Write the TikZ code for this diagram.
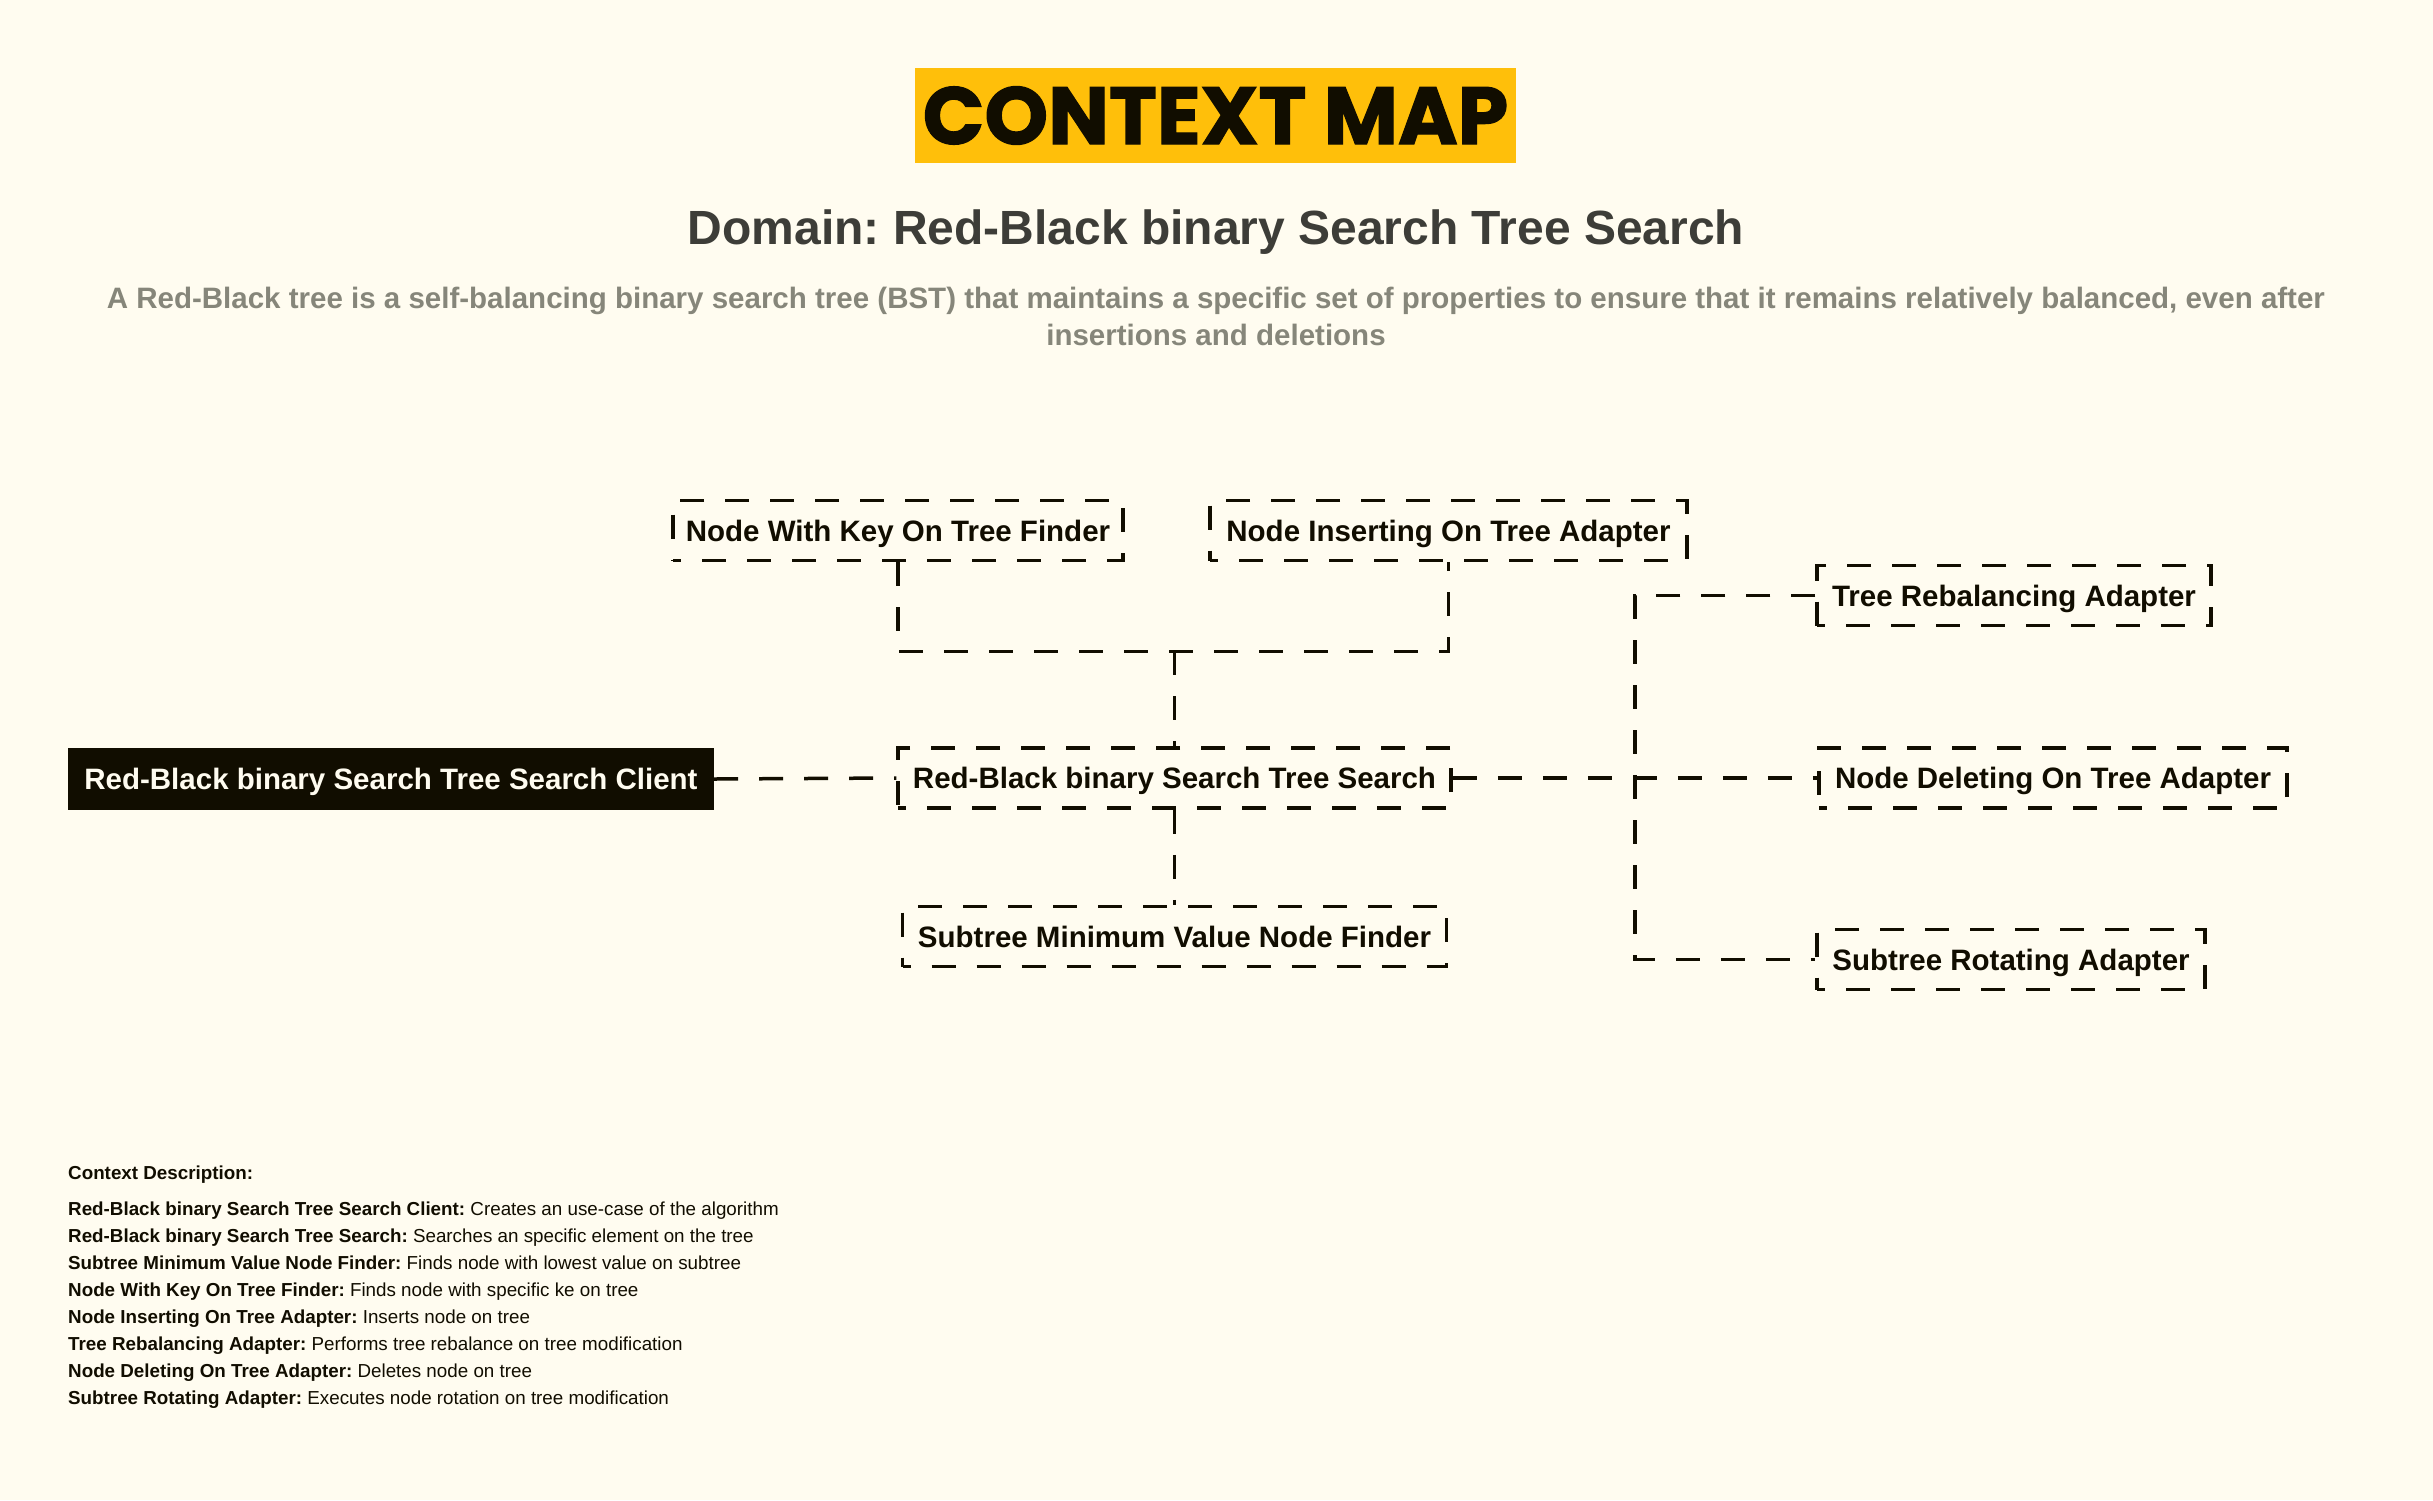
\documentclass[tikz,border=0pt]{standalone}
\usepackage{fontspec}
\setmainfont{Liberation Sans}
\newfontfamily\titlefont{Poppins}[BoldFeatures={FakeBold=1.5}]
\usepackage{tikz}
\usetikzlibrary{positioning}
\definecolor{paper}{HTML}{FFFCF0}
\definecolor{ink}{HTML}{110D00}
\definecolor{amber}{HTML}{FFBF0A}
\definecolor{slate}{HTML}{3D3D38}
\definecolor{mist}{HTML}{86867A}
\frenchspacing

\begin{document}
\begin{tikzpicture}[x=1pt, y=-1pt, node distance=95pt]

    \tikzset{
        context/.style={
            draw=ink,
            line width=3.5pt,
            dash pattern=on 24pt off 21pt,
            dash phase=16pt,
            fill=paper,
            text=ink,
            minimum height=60pt,
            inner sep=0pt,
            text height=21.5pt,
            text depth=0pt,
            font=\fontsize{29.5}{34}\selectfont\bfseries
        },
        client/.style={
            fill=ink,
            text=paper,
            minimum height=62pt,
            inner sep=0pt,
            text height=21.5pt,
            text depth=0pt,
            font=\fontsize{29.5}{34}\selectfont\bfseries
        },
        link/.style={
            draw=ink,
            line width=3.5pt,
            dash pattern=on 24pt off 21pt
        }
    }

    % canvas
    \fill[paper] (0,0) rectangle (2433,1500);
    \useasboundingbox (0,0) rectangle (2433,1500);

    % header
    \node[fill=amber, minimum width=601pt, minimum height=95pt, inner sep=0pt, text=ink,
          font=\titlefont\fontsize{81}{90}\selectfont\bfseries] (title) at (1215.5,115.5) {CONTEXT MAP};
    \node[text=slate, font=\fontsize{48}{56}\selectfont\bfseries] (domain) at (1216,232)
        {Domain: Red-Black binary Search Tree Search};
    \node[text=mist, align=center, font=\fontsize{29.5}{37}\selectfont\bfseries] (about) at (1216,316)
        {A Red-Black tree is a self-balancing binary search tree (BST) that maintains a specific set of properties to ensure that it remains relatively balanced, even after\\insertions and deletions};

    % contexts
    \node[client, minimum width=646pt] (client) at (391,779) {Red-Black binary Search Tree Search Client};
    \node[context, minimum width=553pt] (srch) at (1174.5,778) {Red-Black binary Search Tree Search};
    \node[context, minimum width=544pt, below=95pt of srch] (submin) {Subtree Minimum Value Node Finder};
    \node[context, minimum width=450pt] (finder) at (898,530.5) {Node With Key On Tree Finder};
    \node[context, minimum width=477pt] (insert) at (1448.5,530.5) {Node Inserting On Tree Adapter};
    \node[context, minimum width=394pt] (rebal) at (2014,595.5) {Tree Rebalancing Adapter};
    \node[context, minimum width=468pt] (del) at (2053,778) {Node Deleting On Tree Adapter};
    \node[context, minimum width=388pt] (rot) at (2011,959.5) {Subtree Rotating Adapter};

    % relations
    \path (srch.north) ++(0,-95) coordinate (hub);
    \coordinate (spine) at (1635,778);

    \draw[link] (client.east) -- (srch.west);
    \draw[link] (finder.south) |- (hub) -| (insert.south);
    \draw[link] (hub) -- (srch.north);
    \draw[link] (srch.south) -- (submin.north);
    \draw[link] (srch.east) -- (del.west);
    \draw[link] (rebal.west) -| (spine) |- (rot.west);

    % description
    \node[anchor=north west, align=left, text=ink, inner sep=0pt, font=\fontsize{18.8}{27}\selectfont] (legend) at (68,1166)
        {\textbf{Context Description:}\\[9pt]
         \textbf{Red-Black binary Search Tree Search Client:} Creates an use-case of the algorithm\\
         \textbf{Red-Black binary Search Tree Search:} Searches an specific element on the tree\\
         \textbf{Subtree Minimum Value Node Finder:} Finds node with lowest value on subtree\\
         \textbf{Node With Key On Tree Finder:} Finds node with specific ke on tree\\
         \textbf{Node Inserting On Tree Adapter:} Inserts node on tree\\
         \textbf{Tree Rebalancing Adapter:} Performs tree rebalance on tree modification\\
         \textbf{Node Deleting On Tree Adapter:} Deletes node on tree\\
         \textbf{Subtree Rotating Adapter:} Executes node rotation on tree modification};

\end{tikzpicture}
\end{document}
